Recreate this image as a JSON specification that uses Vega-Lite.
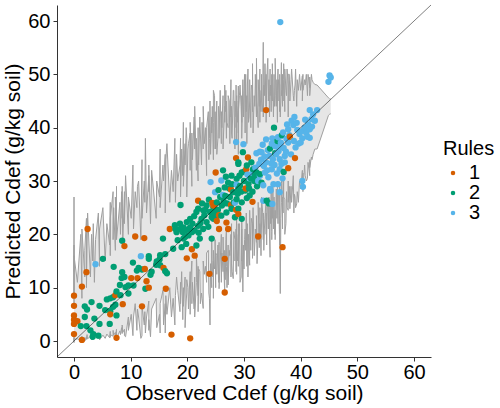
{
  "$schema": "https://vega.github.io/schema/vega-lite/v6.json",
  "width": 374,
  "height": 352,
  "autosize": "none",
  "padding": {"left": 57, "top": 5, "right": 69, "bottom": 51},
  "background": "white",
  "config": {
    "view": {"stroke": null},
    "font": "Liberation Sans",
    "axis": {
      "grid": false,
      "domainColor": "#333333",
      "domainWidth": 1,
      "tickColor": "#333333",
      "tickSize": 4,
      "labelFontSize": 20,
      "labelColor": "#000000",
      "titleFontSize": 21,
      "titleFontWeight": "normal",
      "titleColor": "#000000"
    },
    "legend": {
      "titleFontSize": 20,
      "titleFontWeight": "normal",
      "titleColor": "#000000",
      "labelFontSize": 20,
      "labelColor": "#000000"
    }
  },
  "datasets": {
    "diag": [
      {"obs": -3, "pred": -3},
      {"obs": 63, "pred": 63}
    ],
    "pts": [
      {"obs": 0, "pred": 8.5, "rule": "1", "lo": 0.2, "hi": 13},
      {"obs": 0, "pred": 6.6, "rule": "1", "lo": -0.3, "hi": 27},
      {"obs": 0, "pred": 4.8, "rule": "1", "lo": 0.5, "hi": 9},
      {"obs": 0, "pred": 4.0, "rule": "1", "lo": 0.0, "hi": 18},
      {"obs": 0, "pred": 3.2, "rule": "1", "lo": 0.8, "hi": 7},
      {"obs": 0, "pred": 1.3, "rule": "1", "lo": 0.3, "hi": 16},
      {"obs": 0.6, "pred": 3.7, "rule": "1", "lo": 0.4, "hi": 11},
      {"obs": 1.2, "pred": 2.8, "rule": "2", "lo": 0.1, "hi": 20},
      {"obs": 1.4, "pred": 0.2, "rule": "1", "lo": 0.9, "hi": 8},
      {"obs": 1.4, "pred": 10.2, "rule": "1", "lo": 0.2, "hi": 21},
      {"obs": 1.9, "pred": 6.5, "rule": "2", "lo": 0.6, "hi": 12},
      {"obs": 1.9, "pred": 4.5, "rule": "2", "lo": 0.0, "hi": 17},
      {"obs": 2.2, "pred": 12.9, "rule": "1", "lo": 0.8, "hi": 23},
      {"obs": 2.2, "pred": 2.8, "rule": "2", "lo": 0.3, "hi": 10},
      {"obs": 2.3, "pred": 5.9, "rule": "2", "lo": 1.2, "hi": 18},
      {"obs": 2.4, "pred": 21.0, "rule": "1", "lo": 0.4, "hi": 24},
      {"obs": 2.9, "pred": 2.0, "rule": "2", "lo": 0.9, "hi": 12},
      {"obs": 3.1, "pred": 7.3, "rule": "2", "lo": 0.2, "hi": 20},
      {"obs": 3.3, "pred": 0.8, "rule": "2", "lo": 1.0, "hi": 15},
      {"obs": 3.4, "pred": 1.3, "rule": "2", "lo": 0.3, "hi": 22},
      {"obs": 3.6, "pred": 4.2, "rule": "2", "lo": 0.7, "hi": 11},
      {"obs": 3.8, "pred": 14.4, "rule": "3", "lo": 1.5, "hi": 19},
      {"obs": 4.3, "pred": 1.0, "rule": "2", "lo": 0.4, "hi": 24},
      {"obs": 4.5, "pred": 6.6, "rule": "2", "lo": 0.9, "hi": 14},
      {"obs": 4.5, "pred": 3.2, "rule": "2", "lo": 0.2, "hi": 21},
      {"obs": 5.1, "pred": 15.4, "rule": "2", "lo": 1.1, "hi": 25},
      {"obs": 5.5, "pred": 5.8, "rule": "2", "lo": 0.5, "hi": 15},
      {"obs": 5.8, "pred": 7.8, "rule": "2", "lo": 1.3, "hi": 22},
      {"obs": 6.3, "pred": 3.2, "rule": "2", "lo": 0.6, "hi": 18},
      {"obs": 6.4, "pred": 8.0, "rule": "2", "lo": 1.8, "hi": 26},
      {"obs": 6.4, "pred": 5.6, "rule": "2", "lo": 0.7, "hi": 16},
      {"obs": 6.4, "pred": 5.0, "rule": "1", "lo": 1.2, "hi": 23},
      {"obs": 6.9, "pred": 8.2, "rule": "2", "lo": 0.9, "hi": 28},
      {"obs": 6.9, "pred": 6.4, "rule": "2", "lo": 2.0, "hi": 19},
      {"obs": 7.0, "pred": 13.9, "rule": "2", "lo": 1.1, "hi": 25},
      {"obs": 7.3, "pred": 6.8, "rule": "2", "lo": 1.6, "hi": 17},
      {"obs": 7.3, "pred": 8.6, "rule": "1", "lo": 0.8, "hi": 27},
      {"obs": 7.5, "pred": 9.3, "rule": "2", "lo": 2.2, "hi": 21},
      {"obs": 7.5, "pred": 4.8, "rule": "2", "lo": 1.0, "hi": 29},
      {"obs": 7.5, "pred": 0.6, "rule": "1", "lo": 0.5, "hi": 19},
      {"obs": 8.1, "pred": 10.5, "rule": "2", "lo": 1.9, "hi": 26},
      {"obs": 8.2, "pred": 8.6, "rule": "2", "lo": 1.2, "hi": 20},
      {"obs": 8.4, "pred": 11.8, "rule": "2", "lo": 2.5, "hi": 28},
      {"obs": 8.5, "pred": 18.8, "rule": "2", "lo": 1.4, "hi": 23},
      {"obs": 8.5, "pred": 12.9, "rule": "2", "lo": 3.0, "hi": 29},
      {"obs": 8.6, "pred": 6.9, "rule": "1", "lo": 1.6, "hi": 18},
      {"obs": 8.9, "pred": 12.0, "rule": "2", "lo": 2.2, "hi": 28},
      {"obs": 8.9, "pred": 17.8, "rule": "1", "lo": 1.0, "hi": 22},
      {"obs": 9.1, "pred": 10.1, "rule": "2", "lo": 0.8, "hi": 31},
      {"obs": 9.6, "pred": 10.4, "rule": "2", "lo": 4.5, "hi": 20},
      {"obs": 9.6, "pred": 8.9, "rule": "2", "lo": 2.0, "hi": 27},
      {"obs": 10.1, "pred": 11.8, "rule": "1", "lo": 5.0, "hi": 23},
      {"obs": 10.4, "pred": 14.7, "rule": "2", "lo": 1.0, "hi": 33},
      {"obs": 10.5, "pred": 10.4, "rule": "2", "lo": 4.5, "hi": 21},
      {"obs": 10.8, "pred": 19.6, "rule": "1", "lo": 7.0, "hi": 28},
      {"obs": 11.1, "pred": 13.2, "rule": "2", "lo": 2.0, "hi": 25},
      {"obs": 11.2, "pred": 11.8, "rule": "1", "lo": 6.0, "hi": 29},
      {"obs": 11.4, "pred": 13.7, "rule": "2", "lo": 4.5, "hi": 30},
      {"obs": 11.8, "pred": 15.9, "rule": "3", "lo": 0.5, "hi": 19},
      {"obs": 12.0, "pred": 6.5, "rule": "1", "lo": 1.0, "hi": 34},
      {"obs": 12.0, "pred": 13.4, "rule": "2", "lo": 6.5, "hi": 23},
      {"obs": 12.4, "pred": 19.3, "rule": "1", "lo": 3.0, "hi": 30},
      {"obs": 12.5, "pred": 13.5, "rule": "1", "lo": 5.5, "hi": 26},
      {"obs": 12.6, "pred": 9.8, "rule": "2", "lo": 1.5, "hi": 38},
      {"obs": 12.8, "pred": 11.2, "rule": "1", "lo": 4.5, "hi": 24},
      {"obs": 13.2, "pred": 15.9, "rule": "2", "lo": 7.5, "hi": 31},
      {"obs": 13.2, "pred": 15.4, "rule": "2", "lo": 2.0, "hi": 28},
      {"obs": 13.2, "pred": 10.0, "rule": "1", "lo": 4.0, "hi": 33},
      {"obs": 13.5, "pred": 12.4, "rule": "2", "lo": 0.8, "hi": 22},
      {"obs": 13.7, "pred": 13.0, "rule": "2", "lo": 6.0, "hi": 32},
      {"obs": 14.5, "pred": 14.3, "rule": "2", "lo": 8.0, "hi": 23},
      {"obs": 14.6, "pred": 14.9, "rule": "2", "lo": 2.5, "hi": 30},
      {"obs": 15.1, "pred": 15.3, "rule": "2", "lo": 5.0, "hi": 27},
      {"obs": 15.2, "pred": 16.1, "rule": "2", "lo": 1.5, "hi": 36},
      {"obs": 15.2, "pred": 14.2, "rule": "2", "lo": 7.0, "hi": 25},
      {"obs": 15.7, "pred": 19.2, "rule": "2", "lo": 9.5, "hi": 33},
      {"obs": 15.8, "pred": 13.7, "rule": "1", "lo": 3.0, "hi": 30},
      {"obs": 16.1, "pred": 16.3, "rule": "2", "lo": 7.0, "hi": 35},
      {"obs": 16.1, "pred": 13.1, "rule": "2", "lo": 1.5, "hi": 24},
      {"obs": 16.2, "pred": 9.8, "rule": "1", "lo": 8.5, "hi": 34},
      {"obs": 16.4, "pred": 12.7, "rule": "2", "lo": 5.0, "hi": 37},
      {"obs": 16.9, "pred": 21.0, "rule": "1", "lo": 10.0, "hi": 26},
      {"obs": 17.2, "pred": 1.2, "rule": "1", "lo": 4.5, "hi": 32},
      {"obs": 17.5, "pred": 17.3, "rule": "2", "lo": 8.0, "hi": 28},
      {"obs": 17.8, "pred": 21.7, "rule": "2", "lo": 3.0, "hi": 38},
      {"obs": 17.9, "pred": 21.0, "rule": "2", "lo": 8.5, "hi": 26},
      {"obs": 18.1, "pred": 20.4, "rule": "2", "lo": 12.0, "hi": 35},
      {"obs": 18.3, "pred": 18.9, "rule": "2", "lo": 9.5, "hi": 30},
      {"obs": 18.7, "pred": 22.0, "rule": "2", "lo": 5.5, "hi": 33},
      {"obs": 18.8, "pred": 21.0, "rule": "2", "lo": 11.0, "hi": 38},
      {"obs": 18.8, "pred": 25.5, "rule": "2", "lo": 7.0, "hi": 27},
      {"obs": 19.0, "pred": 17.6, "rule": "2", "lo": 13.0, "hi": 36},
      {"obs": 19.2, "pred": 20.4, "rule": "2", "lo": 4.0, "hi": 31},
      {"obs": 19.3, "pred": 21.3, "rule": "2", "lo": 10.0, "hi": 41},
      {"obs": 19.3, "pred": 19.2, "rule": "2", "lo": 6.5, "hi": 29},
      {"obs": 19.6, "pred": 20.7, "rule": "2", "lo": 12.0, "hi": 37},
      {"obs": 19.6, "pred": 19.5, "rule": "2", "lo": 2.5, "hi": 33},
      {"obs": 19.8, "pred": 18.2, "rule": "2", "lo": 7.5, "hi": 40},
      {"obs": 19.9, "pred": 22.3, "rule": "2", "lo": 9.0, "hi": 38},
      {"obs": 19.9, "pred": 15.5, "rule": "1", "lo": 11.5, "hi": 27},
      {"obs": 20.1, "pred": 20.9, "rule": "2", "lo": 10.0, "hi": 36},
      {"obs": 20.2, "pred": 19.8, "rule": "2", "lo": 6.0, "hi": 37},
      {"obs": 20.5, "pred": 22.9, "rule": "2", "lo": 13.0, "hi": 39},
      {"obs": 20.5, "pred": 21.3, "rule": "2", "lo": 5.0, "hi": 32},
      {"obs": 20.5, "pred": 0.5, "rule": "1", "lo": 9.5, "hi": 41},
      {"obs": 20.8, "pred": 17.2, "rule": "1", "lo": 15.0, "hi": 29},
      {"obs": 20.8, "pred": 20.4, "rule": "2", "lo": 7.0, "hi": 39},
      {"obs": 20.9, "pred": 22.0, "rule": "2", "lo": 11.0, "hi": 34},
      {"obs": 21.2, "pred": 23.4, "rule": "2", "lo": 6.0, "hi": 42},
      {"obs": 21.3, "pred": 16.0, "rule": "1", "lo": 12.0, "hi": 36},
      {"obs": 21.3, "pred": 20.7, "rule": "2", "lo": 4.5, "hi": 44},
      {"obs": 21.6, "pred": 24.2, "rule": "2", "lo": 11.0, "hi": 32},
      {"obs": 21.6, "pred": 17.9, "rule": "2", "lo": 16.0, "hi": 38},
      {"obs": 21.9, "pred": 24.8, "rule": "2", "lo": 8.5, "hi": 30},
      {"obs": 21.9, "pred": 21.6, "rule": "2", "lo": 14.0, "hi": 40},
      {"obs": 21.9, "pred": 26.3, "rule": "1", "lo": 5.5, "hi": 35},
      {"obs": 22.0, "pred": 20.3, "rule": "2", "lo": 13.5, "hi": 33},
      {"obs": 22.2, "pred": 19.2, "rule": "2", "lo": 13.0, "hi": 42},
      {"obs": 22.3, "pred": 22.1, "rule": "2", "lo": 7.0, "hi": 39},
      {"obs": 22.5, "pred": 22.9, "rule": "2", "lo": 9.0, "hi": 33},
      {"obs": 22.6, "pred": 25.8, "rule": "2", "lo": 8.0, "hi": 41},
      {"obs": 22.8, "pred": 24.5, "rule": "2", "lo": 6.1, "hi": 36},
      {"obs": 22.8, "pred": 21.0, "rule": "2", "lo": 15.0, "hi": 44},
      {"obs": 23.0, "pred": 23.6, "rule": "2", "lo": 12.5, "hi": 37},
      {"obs": 23.2, "pred": 24.6, "rule": "2", "lo": 14.0, "hi": 40},
      {"obs": 23.4, "pred": 25.4, "rule": "2", "lo": 11.0, "hi": 31},
      {"obs": 23.4, "pred": 22.3, "rule": "2", "lo": 16.5, "hi": 40},
      {"obs": 23.7, "pred": 21.4, "rule": "2", "lo": 17.0, "hi": 43},
      {"obs": 23.8, "pred": 26.5, "rule": "2", "lo": 9.0, "hi": 34},
      {"obs": 23.9, "pred": 12.6, "rule": "1", "lo": 8.0, "hi": 38},
      {"obs": 24.0, "pred": 24.2, "rule": "2", "lo": 3.0, "hi": 45},
      {"obs": 24.1, "pred": 29.8, "rule": "3", "lo": 14.5, "hi": 35},
      {"obs": 24.3, "pred": 23.2, "rule": "2", "lo": 10.0, "hi": 42},
      {"obs": 24.3, "pred": 19.2, "rule": "2", "lo": 19.0, "hi": 39},
      {"obs": 24.4, "pred": 25.9, "rule": "1", "lo": 12.0, "hi": 44},
      {"obs": 24.6, "pred": 25.1, "rule": "2", "lo": 15.0, "hi": 34},
      {"obs": 24.6, "pred": 22.9, "rule": "2", "lo": 8.0, "hi": 41},
      {"obs": 24.6, "pred": 25.4, "rule": "1", "lo": 17.0, "hi": 47},
      {"obs": 24.8, "pred": 24.0, "rule": "2", "lo": 13.5, "hi": 46},
      {"obs": 24.9, "pred": 27.9, "rule": "3", "lo": 14.0, "hi": 36},
      {"obs": 24.9, "pred": 25.7, "rule": "1", "lo": 19.0, "hi": 43},
      {"obs": 25.0, "pred": 31.6, "rule": "1", "lo": 10.0, "hi": 39},
      {"obs": 25.0, "pred": 23.0, "rule": "2", "lo": 16.5, "hi": 36},
      {"obs": 25.2, "pred": 26.0, "rule": "2", "lo": 16.0, "hi": 45},
      {"obs": 25.2, "pred": 22.5, "rule": "1", "lo": 12.5, "hi": 35},
      {"obs": 25.4, "pred": 24.6, "rule": "2", "lo": 18.0, "hi": 38},
      {"obs": 25.5, "pred": 28.3, "rule": "2", "lo": 11.0, "hi": 44},
      {"obs": 25.6, "pred": 23.6, "rule": "1", "lo": 18.5, "hi": 42},
      {"obs": 25.6, "pred": 21.0, "rule": "1", "lo": 9.8, "hi": 38},
      {"obs": 25.8, "pred": 27.0, "rule": "2", "lo": 15.0, "hi": 47},
      {"obs": 26.0, "pred": 30.1, "rule": "3", "lo": 20.0, "hi": 37},
      {"obs": 26.0, "pred": 23.5, "rule": "2", "lo": 11.0, "hi": 43},
      {"obs": 26.1, "pred": 25.4, "rule": "2", "lo": 16.5, "hi": 40},
      {"obs": 26.3, "pred": 27.4, "rule": "3", "lo": 13.0, "hi": 46},
      {"obs": 26.3, "pred": 32.0, "rule": "2", "lo": 19.5, "hi": 36},
      {"obs": 26.4, "pred": 26.2, "rule": "2", "lo": 15.0, "hi": 39},
      {"obs": 26.6, "pred": 28.8, "rule": "2", "lo": 9.0, "hi": 44},
      {"obs": 26.6, "pred": 15.4, "rule": "1", "lo": 17.0, "hi": 41},
      {"obs": 26.6, "pred": 9.1, "rule": "1", "lo": 12.0, "hi": 48},
      {"obs": 26.7, "pred": 27.2, "rule": "2", "lo": 11.5, "hi": 43},
      {"obs": 26.8, "pred": 30.8, "rule": "2", "lo": 19.0, "hi": 47},
      {"obs": 26.9, "pred": 24.1, "rule": "2", "lo": 21.0, "hi": 38},
      {"obs": 26.9, "pred": 22.2, "rule": "1", "lo": 14.0, "hi": 45},
      {"obs": 27.0, "pred": 25.8, "rule": "2", "lo": 10.0, "hi": 41},
      {"obs": 27.2, "pred": 29.7, "rule": "2", "lo": 18.0, "hi": 40},
      {"obs": 27.2, "pred": 21.0, "rule": "1", "lo": 10.5, "hi": 46},
      {"obs": 27.4, "pred": 28.6, "rule": "2", "lo": 17.0, "hi": 45},
      {"obs": 27.5, "pred": 27.0, "rule": "2", "lo": 16.0, "hi": 37},
      {"obs": 27.7, "pred": 28.4, "rule": "1", "lo": 20.0, "hi": 49},
      {"obs": 27.7, "pred": 25.5, "rule": "1", "lo": 12.0, "hi": 42},
      {"obs": 27.8, "pred": 31.0, "rule": "2", "lo": 22.0, "hi": 44},
      {"obs": 27.8, "pred": 24.8, "rule": "2", "lo": 14.5, "hi": 39},
      {"obs": 27.9, "pred": 29.4, "rule": "2", "lo": 13.0, "hi": 38},
      {"obs": 28.1, "pred": 27.9, "rule": "2", "lo": 11.7, "hi": 47},
      {"obs": 28.2, "pred": 26.0, "rule": "2", "lo": 20.5, "hi": 47},
      {"obs": 28.4, "pred": 25.9, "rule": "3", "lo": 19.0, "hi": 36},
      {"obs": 28.4, "pred": 23.2, "rule": "2", "lo": 15.0, "hi": 45},
      {"obs": 28.6, "pred": 37.3, "rule": "3", "lo": 21.0, "hi": 42},
      {"obs": 28.6, "pred": 24.6, "rule": "1", "lo": 13.0, "hi": 48},
      {"obs": 28.6, "pred": 34.3, "rule": "1", "lo": 18.0, "hi": 40},
      {"obs": 28.7, "pred": 30.4, "rule": "2", "lo": 23.0, "hi": 46},
      {"obs": 28.7, "pred": 26.6, "rule": "2", "lo": 12.5, "hi": 37},
      {"obs": 28.7, "pred": 29.3, "rule": "3", "lo": 17.0, "hi": 44},
      {"obs": 28.9, "pred": 27.6, "rule": "2", "lo": 15.0, "hi": 41},
      {"obs": 29.0, "pred": 33.2, "rule": "2", "lo": 20.0, "hi": 47.8},
      {"obs": 29.0, "pred": 24.8, "rule": "2", "lo": 14.0, "hi": 39},
      {"obs": 29.0, "pred": 28.5, "rule": "2", "lo": 22.0, "hi": 45},
      {"obs": 29.0, "pred": 23.8, "rule": "1", "lo": 16.0, "hi": 35},
      {"obs": 29.0, "pred": 33.5, "rule": "2", "lo": 19.0, "hi": 43},
      {"obs": 29.2, "pred": 31.0, "rule": "2", "lo": 22.0, "hi": 46},
      {"obs": 29.3, "pred": 29.1, "rule": "2", "lo": 11.0, "hi": 48},
      {"obs": 29.5, "pred": 28.0, "rule": "2", "lo": 12.0, "hi": 44},
      {"obs": 29.6, "pred": 31.6, "rule": "2", "lo": 21.0, "hi": 41},
      {"obs": 29.6, "pred": 26.0, "rule": "2", "lo": 15.0, "hi": 46},
      {"obs": 29.6, "pred": 22.9, "rule": "2", "lo": 23.0, "hi": 38},
      {"obs": 29.8, "pred": 35.4, "rule": "2", "lo": 9.2, "hi": 49},
      {"obs": 29.9, "pred": 36.9, "rule": "3", "lo": 18.0, "hi": 42},
      {"obs": 30.0, "pred": 30.0, "rule": "2", "lo": 13.5, "hi": 47},
      {"obs": 30.1, "pred": 31.8, "rule": "2", "lo": 19.0, "hi": 50},
      {"obs": 30.2, "pred": 28.2, "rule": "2", "lo": 21.0, "hi": 39},
      {"obs": 30.3, "pred": 28.6, "rule": "1", "lo": 17.0, "hi": 50},
      {"obs": 30.4, "pred": 32.2, "rule": "1", "lo": 24.0, "hi": 43},
      {"obs": 30.5, "pred": 32.9, "rule": "2", "lo": 14.0, "hi": 46},
      {"obs": 30.5, "pred": 26.8, "rule": "2", "lo": 19.5, "hi": 37},
      {"obs": 30.6, "pred": 31.2, "rule": "3", "lo": 22.0, "hi": 48},
      {"obs": 30.7, "pred": 34.4, "rule": "1", "lo": 12.0, "hi": 51},
      {"obs": 30.8, "pred": 29.5, "rule": "2", "lo": 20.0, "hi": 41},
      {"obs": 30.9, "pred": 28.6, "rule": "2", "lo": 16.0, "hi": 42},
      {"obs": 31.0, "pred": 27.3, "rule": "2", "lo": 14.2, "hi": 45},
      {"obs": 31.0, "pred": 30.5, "rule": "3", "lo": 24.5, "hi": 49},
      {"obs": 31.2, "pred": 30.5, "rule": "2", "lo": 17.0, "hi": 40},
      {"obs": 31.3, "pred": 33.5, "rule": "2", "lo": 23.0, "hi": 48},
      {"obs": 31.5, "pred": 26.1, "rule": "1", "lo": 22.0, "hi": 47},
      {"obs": 31.5, "pred": 31.5, "rule": "3", "lo": 15.5, "hi": 43},
      {"obs": 31.5, "pred": 28.0, "rule": "2", "lo": 20.0, "hi": 52},
      {"obs": 31.6, "pred": 32.2, "rule": "2", "lo": 25.0, "hi": 39},
      {"obs": 31.8, "pred": 30.0, "rule": "2", "lo": 16.0, "hi": 46},
      {"obs": 31.9, "pred": 31.0, "rule": "2", "lo": 18.0, "hi": 44},
      {"obs": 32.0, "pred": 32.5, "rule": "3", "lo": 21.0, "hi": 50},
      {"obs": 32.2, "pred": 35.2, "rule": "3", "lo": 18.5, "hi": 42},
      {"obs": 32.2, "pred": 31.6, "rule": "2", "lo": 23.5, "hi": 53},
      {"obs": 32.3, "pred": 29.0, "rule": "2", "lo": 14.5, "hi": 45},
      {"obs": 32.5, "pred": 19.6, "rule": "1", "lo": 20.0, "hi": 40},
      {"obs": 32.5, "pred": 30.0, "rule": "3", "lo": 26.0, "hi": 49},
      {"obs": 32.7, "pred": 33.2, "rule": "3", "lo": 17.5, "hi": 44},
      {"obs": 32.8, "pred": 35.5, "rule": "3", "lo": 22.0, "hi": 51},
      {"obs": 32.8, "pred": 31.0, "rule": "3", "lo": 19.0, "hi": 41},
      {"obs": 32.8, "pred": 31.3, "rule": "2", "lo": 25.0, "hi": 47},
      {"obs": 33.0, "pred": 34.0, "rule": "3", "lo": 16.0, "hi": 43},
      {"obs": 33.1, "pred": 35.4, "rule": "3", "lo": 22.5, "hi": 50},
      {"obs": 33.1, "pred": 29.7, "rule": "2", "lo": 27.0, "hi": 45},
      {"obs": 33.3, "pred": 36.8, "rule": "3", "lo": 24.0, "hi": 43},
      {"obs": 33.4, "pred": 29.2, "rule": "3", "lo": 19.0, "hi": 56},
      {"obs": 33.4, "pred": 26.3, "rule": "3", "lo": 24.0, "hi": 42},
      {"obs": 33.5, "pred": 32.8, "rule": "3", "lo": 17.0, "hi": 48},
      {"obs": 33.6, "pred": 34.6, "rule": "3", "lo": 21.0, "hi": 46},
      {"obs": 33.7, "pred": 31.6, "rule": "3", "lo": 23.0, "hi": 52},
      {"obs": 33.9, "pred": 37.8, "rule": "3", "lo": 26.5, "hi": 44},
      {"obs": 33.9, "pred": 33.5, "rule": "3", "lo": 20.0, "hi": 50},
      {"obs": 33.9, "pred": 43.3, "rule": "1", "lo": 24.0, "hi": 41},
      {"obs": 34.0, "pred": 26.3, "rule": "2", "lo": 18.0, "hi": 47},
      {"obs": 34.1, "pred": 32.0, "rule": "3", "lo": 26.0, "hi": 51},
      {"obs": 34.2, "pred": 35.8, "rule": "3", "lo": 25.0, "hi": 53},
      {"obs": 34.3, "pred": 30.7, "rule": "3", "lo": 21.0, "hi": 45},
      {"obs": 34.4, "pred": 25.8, "rule": "2", "lo": 27.0, "hi": 49},
      {"obs": 34.5, "pred": 34.7, "rule": "3", "lo": 19.5, "hi": 42},
      {"obs": 34.6, "pred": 28.5, "rule": "3", "lo": 15.7, "hi": 51},
      {"obs": 34.6, "pred": 36.1, "rule": "2", "lo": 25.5, "hi": 46},
      {"obs": 34.7, "pred": 28.2, "rule": "3", "lo": 22.0, "hi": 48},
      {"obs": 34.8, "pred": 33.3, "rule": "3", "lo": 28.0, "hi": 43},
      {"obs": 34.9, "pred": 32.2, "rule": "3", "lo": 20.5, "hi": 50},
      {"obs": 34.9, "pred": 37.0, "rule": "3", "lo": 19.0, "hi": 48},
      {"obs": 35.0, "pred": 38.0, "rule": "3", "lo": 26.0, "hi": 45},
      {"obs": 35.0, "pred": 25.7, "rule": "3", "lo": 23.0, "hi": 52},
      {"obs": 35.1, "pred": 34.1, "rule": "3", "lo": 29.0, "hi": 47},
      {"obs": 35.2, "pred": 29.4, "rule": "3", "lo": 21.0, "hi": 42},
      {"obs": 35.3, "pred": 40.0, "rule": "2", "lo": 27.0, "hi": 50},
      {"obs": 35.4, "pred": 33.0, "rule": "3", "lo": 20.0, "hi": 44},
      {"obs": 35.5, "pred": 36.5, "rule": "3", "lo": 24.5, "hi": 46},
      {"obs": 35.5, "pred": 35.2, "rule": "2", "lo": 19.0, "hi": 53},
      {"obs": 35.7, "pred": 35.0, "rule": "3", "lo": 28.5, "hi": 44},
      {"obs": 35.8, "pred": 31.4, "rule": "3", "lo": 23.0, "hi": 49},
      {"obs": 35.9, "pred": 36.9, "rule": "3", "lo": 26.0, "hi": 41},
      {"obs": 35.9, "pred": 37.5, "rule": "2", "lo": 30.0, "hi": 47},
      {"obs": 36.0, "pred": 38.2, "rule": "3", "lo": 22.0, "hi": 51},
      {"obs": 36.0, "pred": 29.4, "rule": "3", "lo": 27.5, "hi": 45},
      {"obs": 36.1, "pred": 35.6, "rule": "3", "lo": 28.0, "hi": 49},
      {"obs": 36.3, "pred": 36.3, "rule": "3", "lo": 18.0, "hi": 48},
      {"obs": 36.3, "pred": 34.1, "rule": "3", "lo": 25.0, "hi": 43},
      {"obs": 36.3, "pred": 32.2, "rule": "3", "lo": 29.0, "hi": 50},
      {"obs": 36.3, "pred": 27.9, "rule": "3", "lo": 23.5, "hi": 46},
      {"obs": 36.4, "pred": 59.8, "rule": "3", "lo": 8.9, "hi": 42},
      {"obs": 36.5, "pred": 37.2, "rule": "3", "lo": 23.0, "hi": 45},
      {"obs": 36.6, "pred": 38.5, "rule": "3", "lo": 26.0, "hi": 52.2},
      {"obs": 36.6, "pred": 33.2, "rule": "3", "lo": 29.5, "hi": 46},
      {"obs": 36.7, "pred": 38.6, "rule": "2", "lo": 30.5, "hi": 47},
      {"obs": 36.8, "pred": 30.5, "rule": "3", "lo": 21.0, "hi": 44},
      {"obs": 36.8, "pred": 17.6, "rule": "1", "lo": 27.0, "hi": 50},
      {"obs": 36.9, "pred": 39.1, "rule": "3", "lo": 24.0, "hi": 45},
      {"obs": 37.0, "pred": 31.7, "rule": "2", "lo": 31.0, "hi": 49},
      {"obs": 37.0, "pred": 36.2, "rule": "3", "lo": 27.0, "hi": 52},
      {"obs": 37.2, "pred": 34.7, "rule": "3", "lo": 26.5, "hi": 43},
      {"obs": 37.2, "pred": 33.5, "rule": "3", "lo": 20.0, "hi": 51},
      {"obs": 37.4, "pred": 35.5, "rule": "3", "lo": 22.0, "hi": 47},
      {"obs": 37.5, "pred": 37.9, "rule": "3", "lo": 28.0, "hi": 46},
      {"obs": 37.6, "pred": 40.6, "rule": "3", "lo": 25.0, "hi": 51},
      {"obs": 37.8, "pred": 39.7, "rule": "3", "lo": 24.5, "hi": 48},
      {"obs": 37.8, "pred": 37.2, "rule": "3", "lo": 30.0, "hi": 42},
      {"obs": 37.8, "pred": 32.4, "rule": "1", "lo": 26.0, "hi": 50},
      {"obs": 38.0, "pred": 38.6, "rule": "3", "lo": 29.0, "hi": 50},
      {"obs": 38.1, "pred": 38.3, "rule": "1", "lo": 24.8, "hi": 45},
      {"obs": 38.3, "pred": 35.0, "rule": "3", "lo": 29.0, "hi": 49},
      {"obs": 38.4, "pred": 41.3, "rule": "3", "lo": 26.0, "hi": 51},
      {"obs": 38.7, "pred": 40.5, "rule": "3", "lo": 31.0, "hi": 46},
      {"obs": 38.8, "pred": 37.5, "rule": "3", "lo": 24.0, "hi": 45},
      {"obs": 38.9, "pred": 42.0, "rule": "3", "lo": 27.5, "hi": 47},
      {"obs": 39.0, "pred": 34.3, "rule": "1", "lo": 27.0, "hi": 48},
      {"obs": 39.1, "pred": 36.3, "rule": "3", "lo": 25.0, "hi": 51},
      {"obs": 39.3, "pred": 40.9, "rule": "3", "lo": 25.7, "hi": 44},
      {"obs": 39.4, "pred": 39.6, "rule": "3", "lo": 28.0, "hi": 49},
      {"obs": 39.6, "pred": 37.0, "rule": "3", "lo": 26.0, "hi": 47},
      {"obs": 39.8, "pred": 38.8, "rule": "3", "lo": 30.0, "hi": 50},
      {"obs": 40.0, "pred": 37.2, "rule": "3", "lo": 28.5, "hi": 47},
      {"obs": 40.3, "pred": 38.0, "rule": "3", "lo": 32.0, "hi": 49.7},
      {"obs": 40.3, "pred": 30.0, "rule": "3", "lo": 29.0, "hi": 45},
      {"obs": 40.4, "pred": 39.4, "rule": "3", "lo": 31.5, "hi": 50},
      {"obs": 40.4, "pred": 28.9, "rule": "3", "lo": 28.0, "hi": 47},
      {"obs": 40.7, "pred": 40.0, "rule": "3", "lo": 33.0, "hi": 49},
      {"obs": 40.8, "pred": 41.5, "rule": "3", "lo": 31.0, "hi": 48},
      {"obs": 41.0, "pred": 39.0, "rule": "3", "lo": 30.0, "hi": 50},
      {"obs": 41.2, "pred": 38.3, "rule": "3", "lo": 30.5, "hi": 46},
      {"obs": 41.3, "pred": 40.6, "rule": "3", "lo": 33.5, "hi": 50},
      {"obs": 41.6, "pred": 43.3, "rule": "3", "lo": 31.0, "hi": 47.5},
      {"obs": 41.6, "pred": 39.7, "rule": "3", "lo": 34.0, "hi": 49.5},
      {"obs": 41.6, "pred": 38.1, "rule": "3", "lo": 32.5, "hi": 46},
      {"obs": 41.9, "pred": 41.6, "rule": "3", "lo": 34.5, "hi": 50},
      {"obs": 42.0, "pred": 40.2, "rule": "3", "lo": 34.0, "hi": 49},
      {"obs": 42.2, "pred": 42.5, "rule": "3", "lo": 35.0, "hi": 48.5},
      {"obs": 42.5, "pred": 41.3, "rule": "3", "lo": 36.0, "hi": 48.1},
      {"obs": 42.9, "pred": 43.3, "rule": "3", "lo": 36.0, "hi": 48.0},
      {"obs": 44.9, "pred": 48.6, "rule": "3", "lo": 42.3, "hi": 45.6},
      {"obs": 45.1, "pred": 49.8, "rule": "3", "lo": 42.5, "hi": 45.4},
      {"obs": 45.3, "pred": 49.4, "rule": "3", "lo": 42.6, "hi": 45.4}
    ]
  },
  "layer": [
    {
      "data": {"name": "pts"},
      "mark": {"type": "area", "color": "#e6e6e6", "opacity": 1},
      "encoding": {
        "x": {
          "field": "obs", "type": "quantitative",
          "scale": {"domain": [-3, 63], "nice": false, "zero": false},
          "axis": {"values": [0, 10, 20, 30, 40, 50, 60], "title": "Observed Cdef (g/kg soil)", "labelPadding": 1, "titlePadding": 0}
        },
        "y": {
          "field": "lo", "type": "quantitative",
          "scale": {"domain": [-3, 63], "nice": false, "zero": false},
          "axis": {"values": [0, 10, 20, 30, 40, 50, 60], "title": "Predicted Cdef (g/kg soil)", "labelPadding": 3, "titlePadding": 4}
        },
        "y2": {"field": "hi"}
      }
    },
    {
      "data": {"name": "pts"},
      "mark": {"type": "line", "color": "#a0a0a0", "strokeWidth": 1},
      "encoding": {
        "x": {"field": "obs", "type": "quantitative"},
        "y": {"field": "hi", "type": "quantitative"}
      }
    },
    {
      "data": {"name": "pts"},
      "mark": {"type": "line", "color": "#a0a0a0", "strokeWidth": 1},
      "encoding": {
        "x": {"field": "obs", "type": "quantitative"},
        "y": {"field": "lo", "type": "quantitative"}
      }
    },
    {
      "data": {"name": "pts"},
      "mark": {"type": "circle", "size": 40, "opacity": 1},
      "encoding": {
        "x": {"field": "obs", "type": "quantitative"},
        "y": {"field": "pred", "type": "quantitative"},
        "color": {
          "field": "rule", "type": "nominal",
          "scale": {"domain": ["1", "2", "3"], "range": ["#D55E00", "#009E73", "#56B4E9"]},
          "legend": {
            "title": "Rules",
            "orient": "none",
            "legendX": 386,
            "legendY": 134,
            "padding": 0,
            "symbolType": "circle",
            "symbolSize": 20,
            "rowPadding": 0,
            "titlePadding": 4,
            "labelOffset": 6
          }
        }
      }
    },
    {
      "data": {"name": "diag"},
      "mark": {"type": "line", "color": "#000000", "strokeOpacity": 0.5, "strokeWidth": 1},
      "encoding": {
        "x": {"field": "obs", "type": "quantitative"},
        "y": {"field": "pred", "type": "quantitative"}
      }
    }
  ]
}
